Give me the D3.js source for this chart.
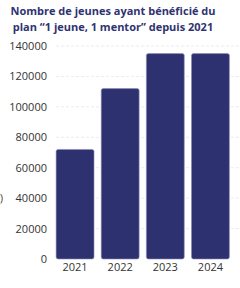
<!DOCTYPE html>
<html>
<head>
<meta charset="utf-8">
<script src="https://cdn.jsdelivr.net/npm/d3@7"></script>
<style>
  body { margin: 0; background: #fff; }
  svg { display: block; font-family: "Open Sans", sans-serif; }
</style>
</head>
<body>
<div id="chart"></div>
<script>
var years = ["2021", "2022", "2023", "2024"];
var jeunes = [72000, 112000, 135000, 135000];
var yTicks = [0, 20000, 40000, 60000, 80000, 100000, 120000, 140000];
var titleLines = ["Nombre de jeunes ayant bénéficié du", "plan “1 jeune, 1 mentor” depuis 2021"];

var svgWidth = 240;
var svgHeight = 288;

var svg = d3.select("#chart")
  .append("svg")
  .attr("width", svgWidth)
  .attr("height", svgHeight);

// title
svg.selectAll(".title")
  .data(titleLines)
  .enter()
  .append("text")
  .attr("class", "title")
  .attr("x", 113)
  .attr("y", (d, i) => 15 + i * 16)
  .attr("text-anchor", "middle")
  .attr("font-size", "11px")
  .attr("font-weight", "bold")
  .attr("fill", "#2f3372")
  .text(d => d);

var x = d3.scaleBand()
  .domain(years)
  .range([52.5, 233])
  .paddingInner(0.16)
  .paddingOuter(0.08);

var y = d3.scaleLinear()
  .domain([0, 140000])
  .range([259, 46]);

// grid
svg.append("g")
  .selectAll("line")
  .data(yTicks.slice(1))
  .enter()
  .append("line")
  .attr("x1", 56)
  .attr("x2", 240)
  .attr("y1", d => y(d))
  .attr("y2", d => y(d))
  .attr("stroke", "#ececec")
  .attr("stroke-dasharray", "3,2");

// y axis
var leftAxis = d3.axisLeft(y).tickValues(yTicks).tickSize(0).tickPadding(0).tickFormat(d3.format("d"));
var gy = svg.append("g")
  .attr("transform", "translate(47,0)")
  .call(leftAxis);
gy.select(".domain").remove();
gy.selectAll("text")
  .attr("font-size", "11px")
  .attr("fill", "#333")
  .attr("font-family", "Open Sans, sans-serif");

// leftover of the axis title at the left edge
svg.append("text")
  .attr("x", 0)
  .attr("y", 202)
  .attr("font-size", "10px")
  .attr("fill", "#333")
  .text(")");

// bars
svg.selectAll(".bar")
  .data(jeunes)
  .enter()
  .append("rect")
  .attr("class", "bar")
  .attr("x", (d, i) => x(years[i]))
  .attr("width", x.bandwidth())
  .attr("y", d => y(d))
  .attr("height", d => y(0) - y(d))
  .attr("rx", 2)
  .attr("fill", "#2e3170")
  .attr("stroke", "#8a8cb8")
  .attr("stroke-width", 0.6);

// x axis
var bottomAxis = d3.axisBottom(x).tickSize(0).tickPadding(0);
var gx = svg.append("g")
  .attr("transform", "translate(0,261)")
  .call(bottomAxis);
gx.select(".domain").remove();
gx.selectAll("text")
  .attr("font-size", "11px")
  .attr("fill", "#333")
  .attr("dy", "0.9em")
  .attr("font-family", "Open Sans, sans-serif");
</script>
</body>
</html>
